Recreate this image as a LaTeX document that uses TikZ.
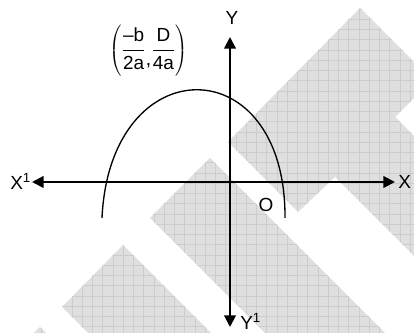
\documentclass[tikz,border=0pt]{standalone}
\usepackage{fontspec}
\setmainfont{Liberation Sans}
\usetikzlibrary{arrows.meta}

\begin{document}
\begin{tikzpicture}[x=0.025cm,y=-0.025cm,>={Triangle[length=2.9mm,width=2.9mm]},
  every node/.style={font=\fontsize{13.5}{16}\selectfont, inner sep=0pt},
  axis/.style={<->, line width=1.4pt},
  gridline/.style={gray!40, line width=0.4pt}]
  \useasboundingbox (0,0) rectangle (414,333);
  % watermark stripes
  \begin{scope}
    \clip (228,142) -- (360,8) -- (414,62) -- (414,98) -- (395,117) -- (414,136) -- (414,256) -- (335,177) -- (298,212) -- cycle
          (210,158) -- (150,218) -- (265,333) -- (385,333) -- cycle
          (123,245) -- (62,307) -- (88,333) -- (211,333) -- cycle
          (40,327) -- (34,333) -- (46,333) -- cycle;
    \fill[gray!25] (0,0) rectangle (414,333);
    \foreach \g in {0,...,41} {
      \draw[gridline] (\g*10.25+0.25,0) -- (\g*10.25+0.25,333);
      \draw[gridline] (0,\g*10.25-1.25) -- (414,\g*10.25-1.25);
    }
  \end{scope}
  % axes
  \coordinate (xl) at (32,182);
  \coordinate (xr) at (395,182);
  \coordinate (yt) at (230,37);
  \coordinate (yb) at (230,327);
  \draw[axis] (xl) -- (xr);
  \draw[axis] (yb) -- (yt);
  % curve
  \draw[line width=0.95pt] (102,218) .. controls (110,47) and (286,47) .. (285,218);
  % labels
  \node (ylab)  [anchor=base] at (232,25) {Y};
  \node (yblab) [anchor=base west] at (240,330) {Y\textsuperscript{1}};
  \node (xllab) [anchor=base west] at (10,190) {X\textsuperscript{1}};
  \node (xrlab) [anchor=base west] at (398,189) {X};
  \node (olab)  [anchor=base] at (266,212) {O};
  \node (vtx) at (148.5,50.5) {$\displaystyle\left(\vcenter{\hbox{\rule{0pt}{38pt}}}\frac{\mbox{–b}}{\mbox{2a}}\mbox{\raisebox{-7pt}{,}}\frac{\mbox{D}}{\mbox{4a}}\right)$};
\end{tikzpicture}
\end{document}
